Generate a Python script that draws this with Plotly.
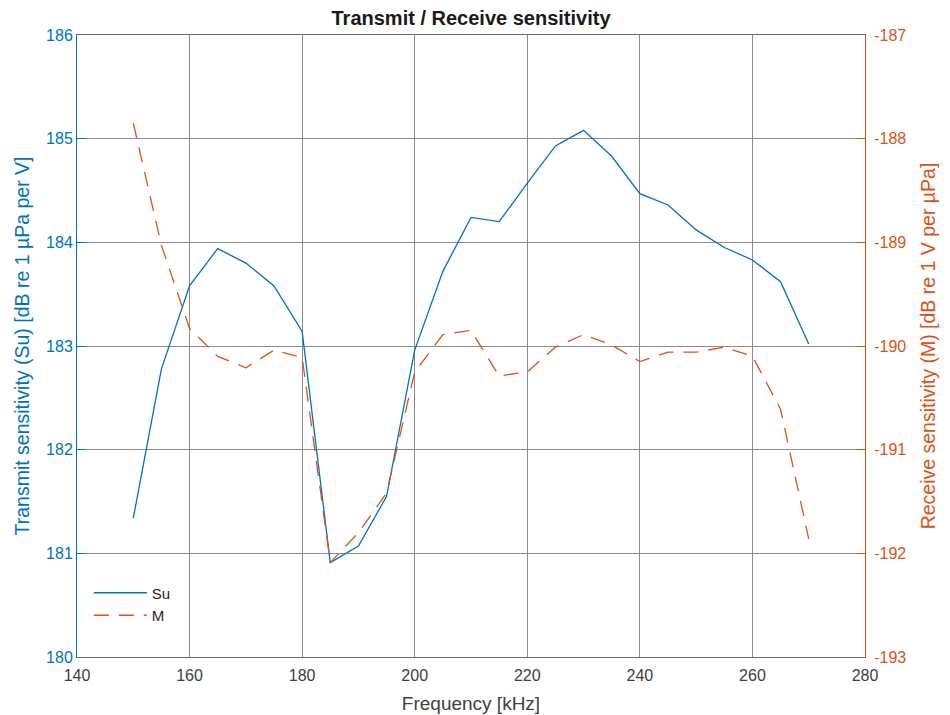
import plotly.graph_objects as go

freq = [150, 155, 160, 165, 170, 175, 180, 185, 190, 195, 200, 205, 210, 215, 220,
        225, 230, 235, 240, 245, 250, 255, 260, 265, 270]
su = [181.34, 182.78, 183.58, 183.94, 183.80, 183.58, 183.14, 180.91, 181.07, 181.55,
      182.96, 183.72, 184.24, 184.20, 184.57, 184.93, 185.08, 184.83, 184.47, 184.36,
      184.12, 183.95, 183.83, 183.62, 183.02]
m = [-187.85, -189.03, -189.83, -190.10, -190.21, -190.04, -190.11, -192.09, -191.80, -191.42,
     -190.25, -189.89, -189.85, -190.29, -190.25, -190.01, -189.89, -189.99, -190.15, -190.06,
     -190.06, -190.01, -190.10, -190.61, -191.86]

x_ticks = [140, 160, 180, 200, 220, 240, 260, 280]
left_ticks = [180, 181, 182, 183, 184, 185, 186]
right_ticks = [-193, -192, -191, -190, -189, -188, -187]
right_labels = ["-193", "-192", "-191", "-190", "-189", "-188", "-187"]

BLUE = "#0072BD"
ORANGE = "#D95319"
GRID = "#8c8c8c"
AXIS = "#6a6a6a"
FONT = "Liberation Sans, Arial, sans-serif"

fig = go.Figure()
fig.add_trace(go.Scatter(x=freq, y=su, mode="lines", name="Su",
                         line=dict(color=BLUE, width=1.3)))
fig.add_trace(go.Scatter(x=freq, y=m, mode="lines", name="M", yaxis="y2",
                         line=dict(color=ORANGE, width=1.3, dash="15px,10px")))

fig.update_layout(
    width=950, height=715,
    margin=dict(l=69, r=93, t=27, b=66, autoexpand=False),
    paper_bgcolor="white", plot_bgcolor="white",
    font=dict(family=FONT, size=16, color="#404040"),
    title=dict(text="<b>Transmit / Receive sensitivity</b>", xref="paper", x=0.5,
               xanchor="center", y=0.986, yanchor="middle",
               font=dict(size=20, color="#1a1a1a")),
    showlegend=True,
    legend=dict(x=0.015, y=0.041, xanchor="left", yanchor="bottom",
                bgcolor="rgba(255,255,255,0)", itemwidth=53,
                font=dict(size=15, color="#262626"), tracegroupgap=0),
    xaxis=dict(range=[140, 280], tickvals=x_ticks, ticks="inside", ticklen=0,
               showgrid=True, gridcolor=GRID, gridwidth=1, automargin=False,
               showline=True, linecolor=AXIS, linewidth=1, mirror=True,
               ticklabelstandoff=4,
               zeroline=False, tickfont=dict(size=16, color="#404040"),
               title=dict(text="Frequency [kHz]", font=dict(size=19, color="#404040"),
                          standoff=13)),
    yaxis=dict(range=[180, 186], tickvals=left_ticks, ticks="inside", ticklen=8,
               tickcolor=BLUE, showgrid=True, gridcolor=GRID, gridwidth=1,
               showline=True, linecolor=BLUE, linewidth=1, zeroline=False,
               automargin=False, tickfont=dict(size=16, color=BLUE),
               title=dict(text="Transmit sensitivity (Su) [dB re 1 µPa per V]",
                          font=dict(size=19.5, color=BLUE), standoff=11)),
    yaxis2=dict(range=[-193, -187], tickvals=right_ticks, ticktext=right_labels,
                ticks="inside", ticklen=8, automargin=False, ticklabelstandoff=5,
                tickcolor=ORANGE, overlaying="y", side="right", showgrid=False,
                showline=True, linecolor=ORANGE, linewidth=1, zeroline=False,
                tickfont=dict(size=16, color=ORANGE),
                title=dict(text="Receive sensitivity (M) [dB re 1 V per µPa]",
                           font=dict(size=19.5, color=ORANGE), standoff=16)),
)

fig.write_html("out.html")
